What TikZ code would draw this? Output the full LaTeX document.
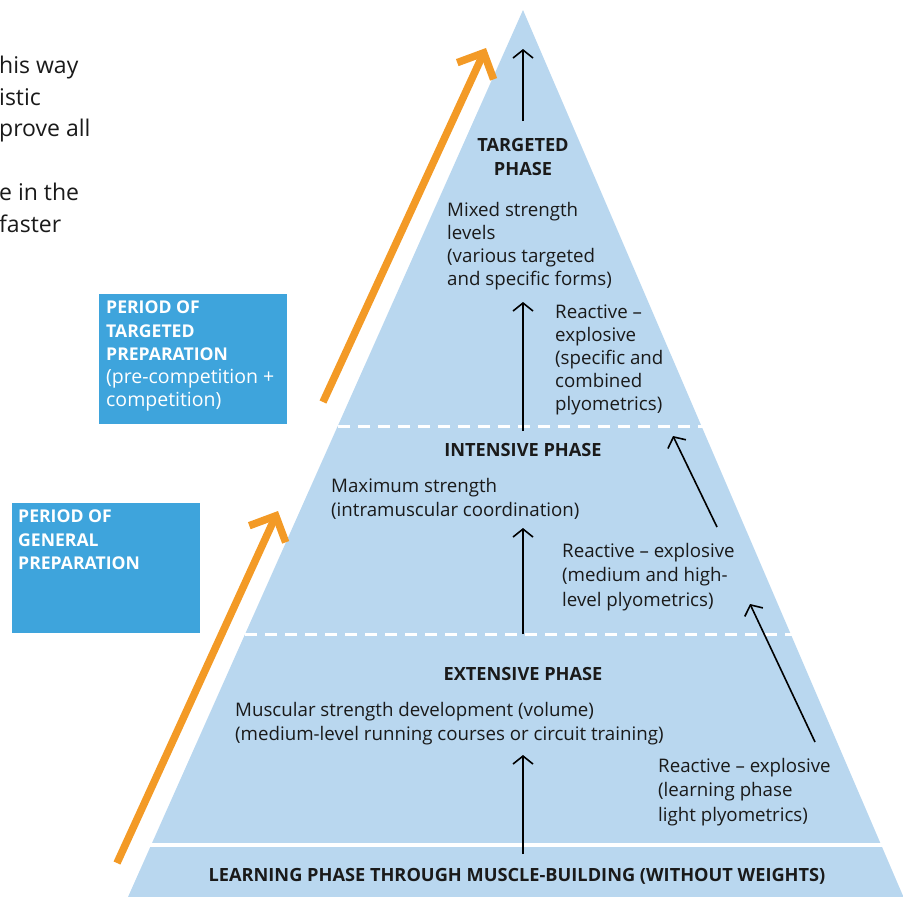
\documentclass[tikz,border=0pt]{standalone}
\usepackage{fontspec}
\setmainfont{Open Sans}
\usetikzlibrary{arrows.meta}
\definecolor{pyr}{HTML}{B9D7EF}
\definecolor{boxblue}{HTML}{3EA4DC}
\definecolor{orng}{HTML}{F39A26}
\definecolor{ink}{HTML}{1A1A1A}
\tikzset{
  body/.style={font=\fontsize{18.7}{24.5}\selectfont, align=left, inner sep=0pt, anchor=north west, text=ink},
  bodytight/.style={body, font=\fontsize{18.7}{23}\selectfont},
  head/.style={font=\fontsize{18.2}{24}\selectfont\bfseries, align=center, inner sep=0pt, text=ink},
  boxtxt/.style={font=\fontsize{19.5}{23.2}\selectfont, align=left, inner sep=0pt, anchor=north west, text=white},
  intro/.style={font=\fontsize{23}{31.5}\selectfont, align=left, inner sep=0pt, anchor=north west, text=ink},
  period/.style={fill=boxblue, draw=none, minimum width=188pt, minimum height=130pt, inner sep=0pt},
  blk/.style={draw=black, line width=1.6pt, -{Straight Barb[length=8pt,width=20pt]}},
  org/.style={draw=orng, line width=7.5pt, -{Straight Barb[length=20pt,width=40pt]}},
}
\newcommand{\bx}[1]{{\fontsize{17.6}{23.2}\selectfont\bfseries #1}}
\begin{document}
\begin{tikzpicture}[x=1pt,y=-1pt]
\useasboundingbox (0,0) rectangle (903,897);
% pyramid
\fill[pyr] (523,10) -- (903.5,897) -- (128,897) -- cycle;
\draw[white, line width=4pt] (100,845) -- (903,845);
\draw[white, line width=3pt, dash pattern=on 12pt off 8pt] (338,426) -- (703,426);
\draw[white, line width=3pt, dash pattern=on 12pt off 8pt] (245,634) -- (792,634);

% period boxes
\node[period] (p1) at (193,359) {};
\node[boxtxt] (p1t) at (106,301) {\bx{PERIOD OF}\\\bx{TARGETED}\\\bx{PREPARATION}\\(pre-competition +\\competition)};
\node[period] (p2) at (106,568) {};
\node[boxtxt] (p2t) at (18,510) {\bx{PERIOD OF}\\\bx{GENERAL}\\\bx{PREPARATION}};

% intro text (cut at left edge)
\node[intro] (i1) at (-1,56) {his way\\istic\\prove all};
\node[intro] (i2) at (-1,183) {e in the\\faster};

% headings
\node[head] (tp) at (523,157) {TARGETED\\PHASE};
\node[head] (ip) at (523,450) {INTENSIVE PHASE};
\node[head] (ep) at (523,674) {EXTENSIVE PHASE};
\node[head] (lp) at (517,876) {LEARNING PHASE THROUGH MUSCLE-BUILDING (WITHOUT WEIGHTS)};

% body texts
\node[bodytight] (t1) at (447,202) {Mixed strength\\levels\\(various targeted\\and specific forms)};
\node[bodytight] (t2) at (555,305) {Reactive --\\explosive\\(specific and\\combined\\plyometrics)};
\node[body] (t3) at (331,478) {Maximum strength\\(intramuscular coordination)};
\node[body] (t4) at (562,543) {Reactive -- explosive\\(medium and high-\\level plyometrics)};
\node[body] (t5) at (235,702) {Muscular strength development (volume)\\(medium-level running courses or circuit training)};
\node[body] (t6) at (658,758) {Reactive -- explosive\\(learning phase\\light plyometrics)};

% black arrows
\coordinate (a1s) at (523,121); \coordinate (a1e) at (523,49);
\coordinate (a2s) at (523,431); \coordinate (a2e) at (523,302);
\coordinate (a3s) at (523,634); \coordinate (a3e) at (523,528);
\coordinate (a4s) at (523,854); \coordinate (a4e) at (523,755);
\coordinate (d1s) at (717,527); \coordinate (d1e) at (673,436);
\coordinate (d2s) at (815,742); \coordinate (d2e) at (750,604);
\draw[blk] (a1s) -- (a1e);
\draw[blk] (a2s) -- (a2e);
\draw[blk] (a3s) -- (a3e);
\draw[blk] (a4s) -- (a4e);
\draw[blk] (d1s) -- (d1e);
\draw[blk] (d2s) -- (d2e);

% orange arrows
\coordinate (o1s) at (323,402); \coordinate (o1e) at (486,48);
\coordinate (o2s) at (117,863); \coordinate (o2e) at (278,511);
\draw[org] (o1s) -- (o1e);
\draw[org] (o2s) -- (o2e);
\end{tikzpicture}
\end{document}
